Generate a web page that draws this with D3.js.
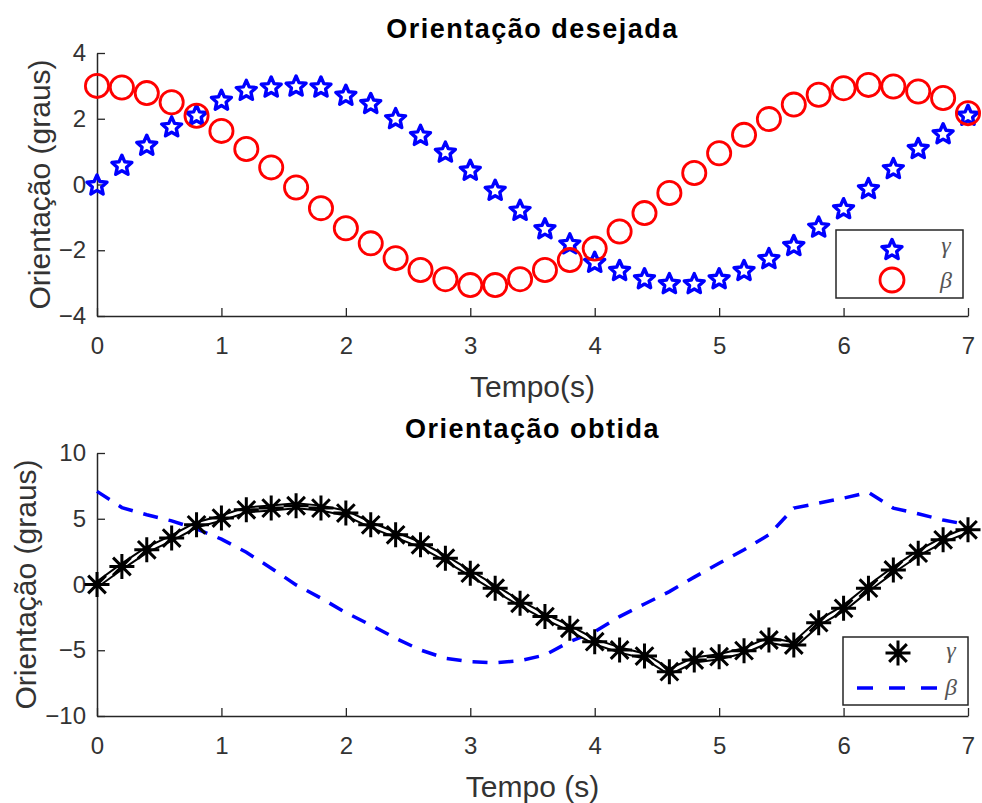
<!DOCTYPE html>
<html>
<head>
<meta charset="utf-8">
<script src="https://cdn.jsdelivr.net/npm/d3@7"></script>
<style>
  html, body { margin: 0; padding: 0; background: #fff; }
  svg { display: block; }
</style>
</head>
<body>
<svg id="chart" width="982" height="803"></svg>
<script>
// ---------- data ----------
const time = [0,0.2,0.4,0.6,0.8,1.0,1.2,1.4,1.6,1.8,2.0,2.2,2.4,2.6,2.8,3.0,3.2,3.4,3.6,3.8,4.0,4.2,4.4,4.6,4.8,5.0,5.2,5.4,5.6,5.8,6.0,6.2,6.4,6.6,6.8,7.0];
const gammaDesired = [0,0.60,1.21,1.77,2.12,2.58,2.88,2.98,3.01,2.98,2.73,2.48,2.02,1.51,1.00,0.45,-0.16,-0.77,-1.33,-1.79,-2.35,-2.60,-2.85,-3.00,-3.00,-2.85,-2.60,-2.24,-1.84,-1.28,-0.72,-0.11,0.50,1.11,1.56,2.12];
const betaDesired = [3.00,2.95,2.78,2.50,2.09,1.63,1.08,0.52,-0.09,-0.72,-1.33,-1.79,-2.24,-2.60,-2.88,-3.06,-3.06,-2.88,-2.60,-2.30,-1.95,-1.43,-0.87,-0.26,0.35,0.95,1.51,1.99,2.43,2.73,2.93,3.03,2.98,2.83,2.63,2.17];
const gammaObtained = [0,1.37,2.64,3.53,4.54,5.05,5.68,5.81,5.99,5.81,5.43,4.54,3.78,3.02,2.00,0.86,-0.28,-1.43,-2.44,-3.33,-4.35,-4.98,-5.44,-6.63,-5.74,-5.49,-5.03,-4.22,-4.60,-2.90,-1.81,-0.28,1.11,2.38,3.40,4.16];
const betaObtained = [7.08,5.85,5.30,4.84,4.23,3.45,2.45,1.24,-0.03,-1.04,-2.14,-3.08,-4.09,-4.98,-5.61,-5.87,-5.95,-5.79,-5.36,-4.35,-3.58,-2.44,-1.48,-0.54,0.56,1.62,2.64,3.78,5.81,6.19,6.57,7.00,5.81,5.38,4.90,4.55];

const xTicks = [0,1,2,3,4,5,6,7];
const yTicksTop = [-4,-2,0,2,4];
const yTicksBottom = [-10,-5,0,5,10];

const titles = ["Orientação desejada", "Orientação obtida"];
const xLabels = ["Tempo(s)", "Tempo (s)"];
const yLabel = "Orientação (graus)";
const legendNames = ["γ", "β"];

// ---------- layout ----------
const svg = d3.select("#chart");
const left = 97, right = 968;
const panels = [
  { top: 53, bottom: 316, domain: [-4, 4], ticks: yTicksTop, ylabX: 50 },
  { top: 453, bottom: 716, domain: [-10, 10], ticks: yTicksBottom, ylabX: 36 }
];
const axisColor = "#262626";
const font = "'Liberation Sans', Arial, Helvetica, sans-serif";

const x = d3.scaleLinear().domain([0, 7]).range([left, right]);

function drawAxes(p, i) {
  const y = d3.scaleLinear().domain(p.domain).range([p.bottom, p.top]);
  const gx = svg.append("g")
    .attr("transform", `translate(0,${p.bottom})`)
    .call(d3.axisBottom(x).tickValues(xTicks).tickFormat(d3.format("d"))
      .tickSizeInner(-8).tickSizeOuter(0).tickPadding(21));
  const gy = svg.append("g")
    .attr("transform", `translate(${left},0)`)
    .call(d3.axisLeft(y).tickValues(p.ticks).tickFormat(d3.format("d"))
      .tickSizeInner(-8).tickSizeOuter(0).tickPadding(11));
  [gx, gy].forEach(g => {
    g.select(".domain").attr("stroke", axisColor).attr("stroke-width", 1.5);
    g.selectAll(".tick line").attr("stroke", axisColor).attr("stroke-width", 1.3);
    g.selectAll(".tick text").attr("fill", "#333")
      .style("font-family", font).style("font-size", "24px");
  });
  // title
  svg.append("text")
    .attr("x", (left + right) / 2).attr("y", p.top - 15)
    .attr("text-anchor", "middle")
    .style("font-family", font).style("font-size", "27px").style("font-weight", "bold")
    .style("letter-spacing", "1.5px")
    .attr("fill", "#000").text(titles[i]);
  // x label
  svg.append("text")
    .attr("x", (left + right) / 2).attr("y", p.bottom + 81)
    .attr("text-anchor", "middle")
    .style("font-family", font).style("font-size", "30px")
    .attr("fill", "#333").text(xLabels[i]);
  // y label
  svg.append("text")
    .attr("transform", `translate(${p.ylabX},${(p.top + p.bottom) / 2}) rotate(-90)`)
    .attr("text-anchor", "middle")
    .style("font-family", font).style("font-size", "30px")
    .attr("fill", "#333").text(yLabel);
  return y;
}

const yTop = drawAxes(panels[0], 0);
const yBot = drawAxes(panels[1], 1);

// ---------- symbols ----------
const starPath = (() => {
  const R = 10.5, r = 4.9;
  const pts = d3.range(10).map(k => {
    const a = -Math.PI / 2 + k * Math.PI / 5;
    const rad = k % 2 === 0 ? R : r;
    return [Math.cos(a) * rad, Math.sin(a) * rad];
  });
  return "M" + pts.map(p => p.join(",")).join("L") + "Z";
})();
const asteriskPath = (() => {
  const r = 12.5; let d = "";
  [0, 45, 90, 135].forEach(a => {
    const c = Math.cos(a * Math.PI / 180) * r, s = Math.sin(a * Math.PI / 180) * r;
    d += `M${-c},${-s}L${c},${s}`;
  });
  return d;
})();

// ---------- top panel ----------
const topData = time.map((t, i) => ({ t, g: gammaDesired[i], b: betaDesired[i] }));

svg.append("g").selectAll("path.star").data(topData).join("path")
  .attr("class", "star")
  .attr("d", starPath)
  .attr("transform", d => `translate(${x(d.t)},${yTop(d.g) + 1})`)
  .attr("fill", "none").attr("stroke", "#0000ff").attr("stroke-width", 3.4)
  .attr("stroke-linejoin", "round");

svg.append("g").selectAll("circle").data(topData).join("circle")
  .attr("cx", d => x(d.t)).attr("cy", d => yTop(d.b)).attr("r", 11.6)
  .attr("fill", "none").attr("stroke", "#ff0000").attr("stroke-width", 2.8);

// legend top
const lg1 = svg.append("g");
lg1.append("rect").attr("x", 836).attr("y", 230).attr("width", 127).attr("height", 68)
  .attr("fill", "#fff").attr("stroke", axisColor).attr("stroke-width", 1.5);
lg1.append("path").attr("d", starPath).attr("transform", "translate(892,250)")
  .attr("fill", "none").attr("stroke", "#0000ff").attr("stroke-width", 3.4)
  .attr("stroke-linejoin", "round");
lg1.append("circle").attr("cx", 892).attr("cy", 280).attr("r", 12)
  .attr("fill", "none").attr("stroke", "#ff0000").attr("stroke-width", 2.8);
lg1.selectAll("text").data(legendNames).join("text")
  .attr("x", 946).attr("y", (d, i) => i === 0 ? 253 : 288)
  .attr("text-anchor", "middle")
  .style("font-family", "'Liberation Serif', 'DejaVu Serif', serif")
  .style("font-style", "italic").style("font-size", "24px")
  .attr("fill", "#555").text(d => d);

// ---------- bottom panel ----------
const botData = time.map((t, i) => ({ t, g: gammaObtained[i], b: betaObtained[i] }));
const lineG = d3.line().x(d => x(d.t)).y(d => yBot(d.g));
const lineB = d3.line().x(d => x(d.t)).y(d => yBot(d.b));

svg.append("path").datum(botData).attr("d", lineB)
  .attr("fill", "none").attr("stroke", "#0000ff").attr("stroke-width", 3.5)
  .attr("stroke-dasharray", "15,11");

svg.append("path").datum(botData).attr("d", lineG)
  .attr("fill", "none").attr("stroke", "#000").attr("stroke-width", 7)
  .attr("stroke-linejoin", "miter");
svg.append("path").datum(botData).attr("d", lineG)
  .attr("fill", "none").attr("stroke", "#fff").attr("stroke-width", 3)
  .attr("stroke-linejoin", "miter");

svg.append("g").selectAll("path").data(botData).join("path")
  .attr("d", asteriskPath)
  .attr("transform", d => `translate(${x(d.t)},${yBot(d.g)})`)
  .attr("stroke", "#000").attr("stroke-width", 3).attr("fill", "none");

// legend bottom
const lg2 = svg.append("g");
lg2.append("rect").attr("x", 843).attr("y", 637).attr("width", 125).attr("height", 68)
  .attr("fill", "#fff").attr("stroke", axisColor).attr("stroke-width", 1.5);
lg2.append("path").attr("d", asteriskPath).attr("transform", "translate(898,653)")
  .attr("stroke", "#000").attr("stroke-width", 3).attr("fill", "none");
lg2.append("line").attr("x1", 857).attr("x2", 938).attr("y1", 688).attr("y2", 688)
  .attr("stroke", "#0000ff").attr("stroke-width", 3.5).attr("stroke-dasharray", "16,16");
lg2.selectAll("text").data(legendNames).join("text")
  .attr("x", 951).attr("y", (d, i) => i === 0 ? 658 : 695)
  .attr("text-anchor", "middle")
  .style("font-family", "'Liberation Serif', 'DejaVu Serif', serif")
  .style("font-style", "italic").style("font-size", "24px")
  .attr("fill", "#555").text(d => d);
</script>
</body>
</html>
